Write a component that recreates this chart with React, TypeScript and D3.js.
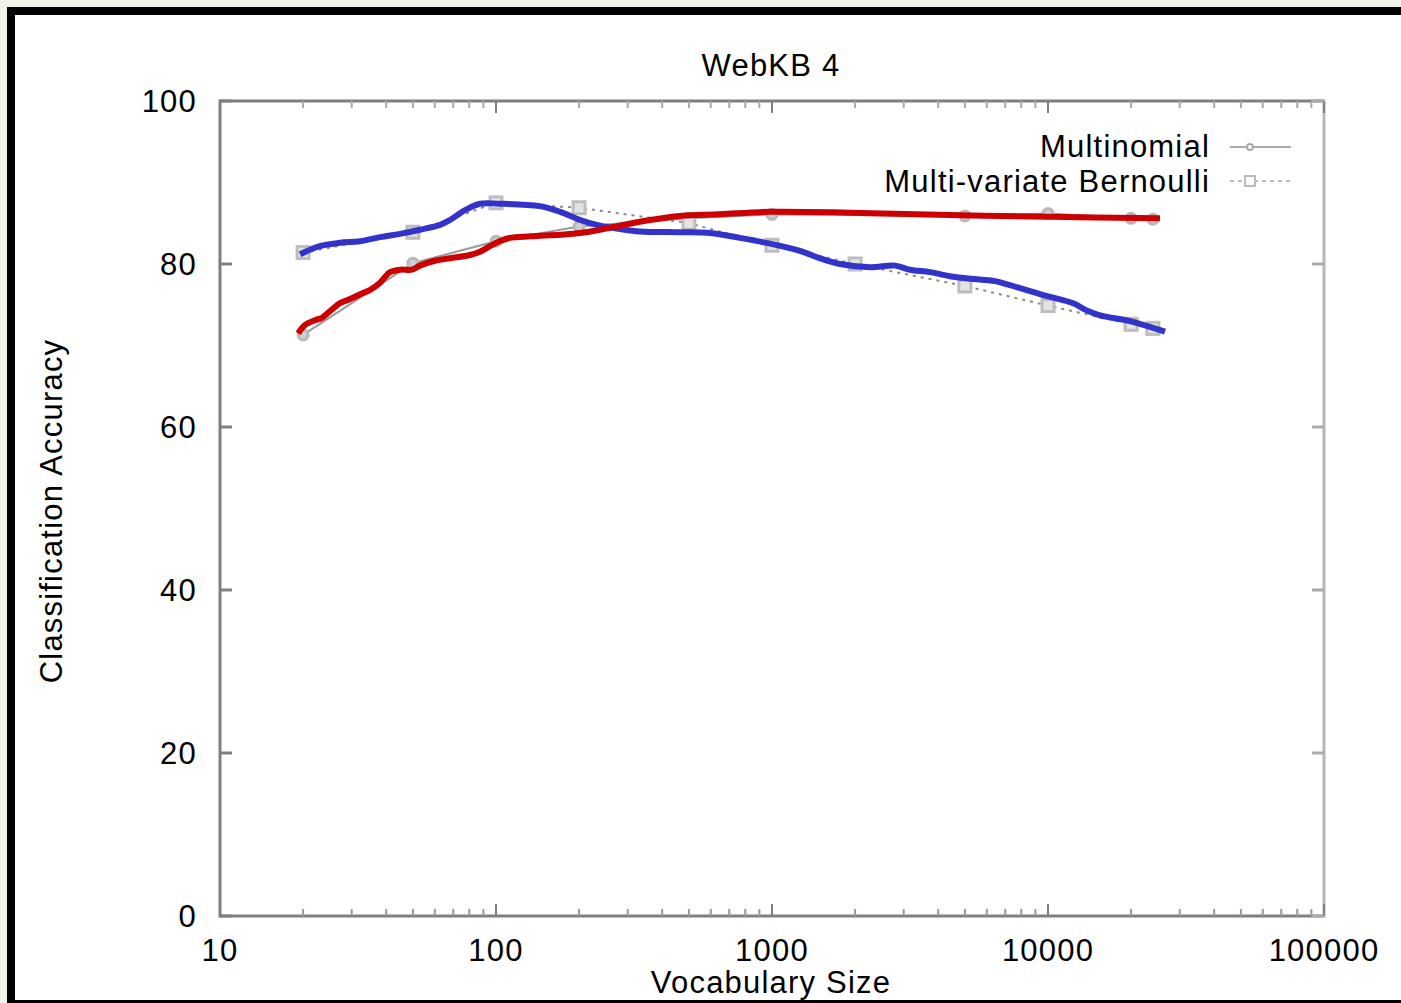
import React from "react";
import * as d3 from "d3";

// ---- data ----
const title = "WebKB 4";
const xLabel = "Vocabulary Size";
const yLabel = "Classification Accuracy";
const xTicks = [10, 100, 1000, 10000, 100000];
const yTicks = [0, 20, 40, 60, 80, 100];
const legendLabels = ["Multinomial", "Multi-variate Bernoulli"];

// gray (original) data points
const multiX = [20, 50, 100, 200, 500, 1000, 5000, 10000, 20000, 24000];
const multiY = [71.3, 80.1, 82.8, 84.6, 85.6, 86.1, 85.9, 86.2, 85.6, 85.5];
const bernX = [20, 50, 100, 200, 500, 1000, 2000, 5000, 10000, 20000, 24000];
const bernY = [81.4, 83.9, 87.5, 86.9, 85.0, 82.3, 80.0, 77.3, 74.9, 72.6, 72.1];

// hand-drawn blue curve
const blueX = [19.5, 23, 27.2, 32.2, 38, 44.9, 53, 62.7, 68.1, 77.2, 87.5, 103, 144, 171, 202, 238, 281, 332, 464, 596, 766, 984, 1263, 1493, 1764, 2265, 2791, 3162, 3737, 4415, 5218, 6427, 7283, 9355, 12523, 13616, 15432, 19822, 26546];
const blueY = [81.2, 82.2, 82.6, 82.8, 83.3, 83.7, 84.2, 84.8, 85.4, 86.6, 87.4, 87.4, 87.1, 86.4, 85.4, 84.7, 84.3, 84.0, 83.9, 83.8, 83.2, 82.5, 81.6, 80.7, 80.0, 79.6, 79.8, 79.3, 79.0, 78.5, 78.2, 77.9, 77.4, 76.3, 75.1, 74.4, 73.7, 73.0, 71.7];

// hand-drawn red curve
const redX = [19.2, 20.3, 22.1, 23.4, 25, 27.2, 29.6, 32.2, 34.9, 38, 39.6, 41.3, 44.9, 49.6, 53, 60.1, 68.1, 80.5, 87.5, 95.1, 103, 112, 133, 171, 202, 238, 281, 361, 464, 648, 984, 1917, 4415, 10167, 25454];
const redY = [71.5, 72.5, 73.1, 73.4, 74.2, 75.2, 75.7, 76.3, 76.8, 77.7, 78.4, 79.0, 79.3, 79.3, 79.8, 80.4, 80.7, 81.1, 81.5, 82.2, 82.8, 83.2, 83.4, 83.6, 83.8, 84.2, 84.7, 85.4, 85.9, 86.1, 86.4, 86.3, 86.0, 85.8, 85.6];

const W = 1401;
const H = 1003;
const FONT = "'Liberation Sans', Arial, sans-serif";
const LS = 1.2;

export default function App() {
  const x = d3.scaleLog().domain([10, 100000]).range([220, 1324]);
  const y = d3.scaleLinear().domain([0, 100]).range([916, 101]);

  const lineGen = d3
    .line<[number, number]>()
    .x((d) => x(d[0]))
    .y((d) => y(d[1]));
  const smooth = d3
    .line<[number, number]>()
    .x((d) => x(d[0]))
    .y((d) => y(d[1]))
    .curve(d3.curveCatmullRom.alpha(0.5));

  const zip = (a: number[], b: number[]) => a.map((v, i) => [v, b[i]] as [number, number]);
  const multi = zip(multiX, multiY);
  const bern = zip(bernX, bernY);
  const blue = zip(blueX, blueY);
  const red = zip(redX, redY);

  const minor: number[] = [];
  for (let e = 1; e < 5; e++) {
    for (let k = 2; k <= 9; k++) minor.push(k * Math.pow(10, e));
  }

  const [x0, x1] = x.range();
  const [yb, yt] = y.range();
  const axisColor = "#808080";
  const txt = { fontFamily: FONT, fontSize: 31, fill: "#000", letterSpacing: LS } as any;

  return (
    <div style={{ position: "fixed", left: 0, top: 0, width: W, height: H }}>
      <svg width={W} height={H} style={{ display: "block" }}>
        <rect x={0} y={0} width={W} height={H} fill="#f2f2ea" />
        <rect x={7} y={7} width={W - 7} height={H - 7} fill="#ffffff" />
        <rect x={7} y={7} width={W - 7} height={8} fill="#000" />
        <rect x={7} y={7} width={8} height={H - 7} fill="#000" />
        <rect x={7} y={1000} width={W - 7} height={3} fill="#000" />

        {/* plot frame */}
        <line x1={x0} y1={yt} x2={x1} y2={yt} stroke={axisColor} strokeWidth={3} />
        <line x1={x0} y1={yb} x2={x1} y2={yb} stroke={axisColor} strokeWidth={3} />
        <line x1={x0} y1={yt - 1.5} x2={x0} y2={yb + 1.5} stroke={axisColor} strokeWidth={3} />
        <line x1={x1} y1={yt - 1.5} x2={x1} y2={yb + 1.5} stroke="#b8b8b8" strokeWidth={3} />

        {/* x ticks */}
        {minor.map((v, i) => (
          <g key={"m" + i}>
            <line x1={x(v)} x2={x(v)} y1={yb} y2={yb - 7} stroke="#999" strokeWidth={2} />
            <line x1={x(v)} x2={x(v)} y1={yt} y2={yt + 7} stroke="#aaa" strokeWidth={2} />
          </g>
        ))}
        {xTicks.map((v, i) => (
          <g key={"x" + i}>
            <line x1={x(v)} x2={x(v)} y1={yb} y2={yb - 12} stroke={axisColor} strokeWidth={2} />
            <line x1={x(v)} x2={x(v)} y1={yt} y2={yt + 12} stroke={axisColor} strokeWidth={2} />
            <text x={x(v)} y={961} textAnchor="middle" {...txt}>
              {v}
            </text>
          </g>
        ))}
        {/* y ticks */}
        {yTicks.map((v, i) => (
          <g key={"y" + i}>
            <line x1={x0} x2={x0 + 12} y1={y(v)} y2={y(v)} stroke={axisColor} strokeWidth={3} />
            <line x1={x1} x2={x1 - 12} y1={y(v)} y2={y(v)} stroke="#aaa" strokeWidth={3} />
            <text x={197} y={y(v) + 11} textAnchor="end" {...txt}>
              {v}
            </text>
          </g>
        ))}

        {/* gray original series */}
        <path d={lineGen(multi) || ""} fill="none" stroke="#9a9a9a" strokeWidth={2} />
        <path d={lineGen(bern) || ""} fill="none" stroke="#8a8a8a" strokeWidth={2} strokeDasharray="3,5" />
        {multi.map((d, i) => (
          <circle key={"mc" + i} cx={x(d[0])} cy={y(d[1])} r={5} fill="#d0d0d0" stroke="#b8b8b8" strokeWidth={3} />
        ))}
        {bern.map((d, i) => (
          <rect key={"bs" + i} x={x(d[0]) - 6} y={y(d[1]) - 6} width={12} height={12} fill="#e4e4e4" stroke="#bdbdbd" strokeWidth={3} />
        ))}

        {/* colored curves */}
        <path d={smooth(blue) || ""} fill="none" stroke="#3333cc" strokeWidth={6} strokeLinecap="butt" strokeLinejoin="round" />
        <path d={smooth(red) || ""} fill="none" stroke="#cc0000" strokeWidth={6} strokeLinecap="butt" strokeLinejoin="round" />

        {/* legend */}
        <text x={1210} y={157} textAnchor="end" {...txt}>
          {legendLabels[0]}
        </text>
        <line x1={1230} x2={1291} y1={147} y2={147} stroke="#aaa" strokeWidth={2} />
        <circle cx={1250} cy={147} r={3} fill="#fff" stroke="#aaa" strokeWidth={2} />
        <text x={1210} y={192} textAnchor="end" {...txt}>
          {legendLabels[1]}
        </text>
        <line x1={1230} x2={1291} y1={181} y2={181} stroke="#bbb" strokeWidth={2} strokeDasharray="4,4" />
        <rect x={1245} y={176} width={10} height={10} fill="#fff" stroke="#bbb" strokeWidth={2} />

        {/* titles */}
        <text x={771} y={76} textAnchor="middle" {...txt}>
          {title}
        </text>
        <text x={771} y={993} textAnchor="middle" {...txt}>
          {xLabel}
        </text>
        <text transform={`translate(62, 511) rotate(-90)`} textAnchor="middle" {...txt}>
          {yLabel}
        </text>
      </svg>
    </div>
  );
}
